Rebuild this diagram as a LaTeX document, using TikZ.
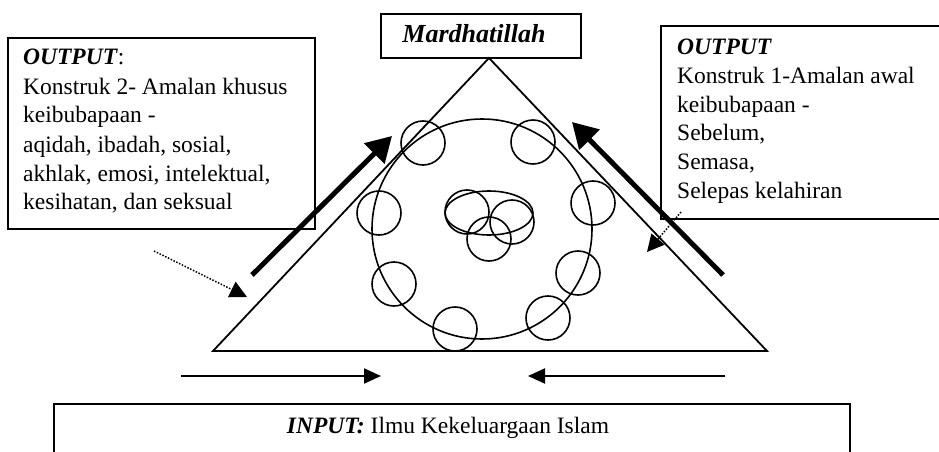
\documentclass[tikz,border=0pt]{standalone}
\usepackage{fontspec}
\setmainfont{Liberation Serif}
\usetikzlibrary{arrows.meta}
\begin{document}
\begin{tikzpicture}[x=1pt,y=-1pt,
  box/.style={draw,line width=2pt,inner sep=0pt},
  edge/.style={line width=1.8pt,line join=miter},
  ring/.style={draw,circle,line width=1.6pt,minimum size=44pt,inner sep=0pt},
  bigarrow/.style={line width=5pt,-{Triangle[length=25pt,width=28pt]}},
  smallarrow/.style={line width=2pt,-{Triangle[length=17pt,width=15pt]}},
  dotarrow/.style={line width=1.5pt,dash pattern=on 1.5pt off 1.6pt,-{Triangle[length=17pt,width=17pt]}},
  txt/.style={font=\fontsize{23.5}{29}\selectfont,inner sep=0pt}]
\useasboundingbox (0,0) rectangle (939,452);
\clip (0,0) rectangle (939,452);

% boxes
\node[box,anchor=north west,minimum width=200pt,minimum height=44pt] (mbox) at (380,13) {};
\node[txt,anchor=base,font=\fontsize{26}{30}\selectfont\bfseries\itshape] (mtext) at (474,43) {Mardhatillah};

\node[box,anchor=north west,minimum width=307pt,minimum height=191pt] (lbox) at (7,37) {};
\node[txt,anchor=base west] (ltext) at (23,65) {\begin{tabular}[t]{@{}l@{}}\textbf{\textit{OUTPUT}}:\\
Konstruk 2- Amalan khusus\\
keibubapaan -\\
aqidah, ibadah, sosial,\\
akhlak, emosi, intelektual,\\
kesihatan, dan seksual\end{tabular}};

\node[box,anchor=north west,minimum width=290pt,minimum height=193pt] (rbox) at (660,25) {};
\node[txt,anchor=base west,font=\fontsize{23.5}{28.6}\selectfont] (rtext) at (677,55) {\begin{tabular}[t]{@{}l@{}}\textbf{\textit{OUTPUT}}\\
Konstruk 1-Amalan awal\\
keibubapaan -\\
Sebelum,\\
Semasa,\\
Selepas kelahiran\end{tabular}};

\node[box,anchor=north west,minimum width=796pt,minimum height=80pt] (ibox) at (53,403) {};
\node[txt,anchor=base] (itext) at (448,433) {\textbf{\textit{INPUT:}} Ilmu Kekeluargaan Islam};

% triangle
\coordinate (apex) at (489,58);
\coordinate (bl) at (213,351);
\coordinate (br) at (767,351);
\draw[edge] (apex) -- (bl) -- (br) -- cycle;

% big circle and small circles
\node[ring,minimum size=220pt] (big) at (482,229) {};
\node[ring] (c1) at (423,143) {};
\node[ring] (c2) at (533,142) {};
\node[ring] (c3) at (379,213) {};
\node[ring] (c4) at (593,203) {};
\node[ring] (c5) at (394,284) {};
\node[ring] (c6) at (578,273) {};
\node[ring] (c7) at (455,329) {};
\node[ring] (c8) at (548,318) {};

% centre cluster
\coordinate (ec) at (489,213);
\draw[line width=1.6pt] (ec) ellipse [x radius=44, y radius=22];
\node[ring] (k1) at (467,212) {};
\node[ring] (k2) at (512,222) {};
\node[ring] (k3) at (489,239) {};

% thick arrows
\coordinate (la1) at (252,275);
\coordinate (la2) at (392,136);
\draw[bigarrow] (la1) -- (la2);
\coordinate (ra1) at (723,275);
\coordinate (ra2) at (572,122);
\draw[bigarrow] (ra1) -- (ra2);

% dotted arrows
\coordinate (ld1) at (154,251);
\coordinate (ld2) at (247,297);
\draw[dotarrow] (ld1) -- (ld2);
\coordinate (rd1) at (681,212);
\coordinate (rd2) at (647,252);
\draw[dotarrow] (rd1) -- (rd2);

% bottom arrows
\coordinate (ba1) at (181,376);
\coordinate (ba2) at (381,376);
\draw[smallarrow] (ba1) -- (ba2);
\coordinate (bb1) at (725,376);
\coordinate (bb2) at (528,376);
\draw[smallarrow] (bb1) -- (bb2);
\end{tikzpicture}
\end{document}
